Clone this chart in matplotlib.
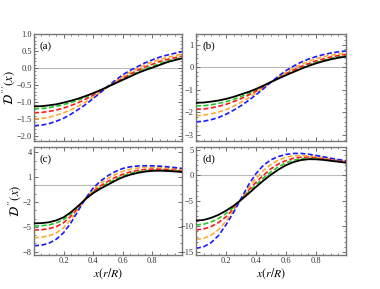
import numpy as np
import matplotlib.pyplot as plt
from matplotlib.ticker import MultipleLocator, FixedLocator

plt.rcParams['font.family'] = ['Liberation Serif', 'DejaVu Serif']
plt.rcParams['mathtext.fontset'] = 'stix'

# sample positions, x = r/R
x = [0.0, 0.05, 0.1, 0.15, 0.2, 0.25, 0.3, 0.35, 0.4, 0.45, 0.5,
     0.55, 0.6, 0.65, 0.7, 0.75, 0.8, 0.85, 0.9, 0.95, 1.0]

# panel (a)
a_black = [-1.13, -1.125, -1.10, -1.07, -1.02, -0.965, -0.90, -0.825, -0.74, -0.65, -0.55,
           -0.45, -0.35, -0.25, -0.15, -0.065, 0.01, 0.09, 0.17, 0.23, 0.28]
a_green = [-1.20, -1.195, -1.17, -1.13, -1.08, -1.015, -0.94, -0.855, -0.76, -0.66, -0.55,
           -0.44, -0.33, -0.22, -0.12, -0.03, 0.05, 0.13, 0.20, 0.26, 0.31]
a_red = [-1.32, -1.31, -1.28, -1.24, -1.18, -1.105, -1.02, -0.915, -0.80, -0.68, -0.55,
         -0.42, -0.30, -0.18, -0.07, 0.03, 0.11, 0.19, 0.25, 0.30, 0.35]
a_orange = [-1.50, -1.49, -1.45, -1.395, -1.32, -1.23, -1.12, -1.00, -0.86, -0.71, -0.55,
            -0.40, -0.25, -0.12, -0.01, 0.09, 0.18, 0.25, 0.31, 0.36, 0.41]
a_blue = [-1.70, -1.685, -1.64, -1.57, -1.48, -1.36, -1.22, -1.07, -0.90, -0.72, -0.54,
          -0.36, -0.20, -0.07, 0.04, 0.15, 0.24, 0.32, 0.38, 0.43, 0.48]

# panel (b)
b_black = [-1.57, -1.56, -1.52, -1.47, -1.40, -1.31, -1.20, -1.09, -0.96, -0.81, -0.65,
           -0.50, -0.35, -0.21, -0.07, 0.06, 0.17, 0.27, 0.35, 0.42, 0.47]
b_green = [-1.71, -1.70, -1.66, -1.60, -1.52, -1.42, -1.30, -1.16, -1.01, -0.84, -0.65,
           -0.48, -0.32, -0.17, -0.03, 0.10, 0.21, 0.31, 0.39, 0.46, 0.51]
b_red = [-1.86, -1.85, -1.80, -1.73, -1.64, -1.52, -1.39, -1.23, -1.06, -0.87, -0.66,
         -0.47, -0.29, -0.12, 0.03, 0.16, 0.28, 0.37, 0.45, 0.52, 0.57]
b_orange = [-2.14, -2.12, -2.06, -1.98, -1.87, -1.72, -1.55, -1.36, -1.14, -0.90, -0.66,
            -0.43, -0.22, -0.04, 0.12, 0.26, 0.38, 0.47, 0.54, 0.59, 0.62]
b_blue = [-2.41, -2.39, -2.32, -2.22, -2.08, -1.90, -1.70, -1.47, -1.22, -0.95, -0.66,
          -0.39, -0.15, 0.05, 0.22, 0.36, 0.47, 0.56, 0.63, 0.68, 0.72]

# panel (c)
c_black = [-4.58, -4.55, -4.45, -4.22, -3.85, -3.22, -2.45, -1.62, -0.92, -0.38, 0.10,
           0.58, 1.00, 1.30, 1.52, 1.67, 1.76, 1.78, 1.75, 1.69, 1.62]
c_green = [-4.90, -4.87, -4.76, -4.55, -4.12, -3.42, -2.55, -1.60, -0.82, -0.22, 0.28,
           0.75, 1.15, 1.45, 1.65, 1.78, 1.85, 1.86, 1.83, 1.79, 1.74]
c_red = [-5.39, -5.35, -5.22, -4.98, -4.50, -3.70, -2.68, -1.58, -0.70, -0.05, 0.50,
         0.98, 1.35, 1.63, 1.82, 1.93, 1.98, 1.98, 1.94, 1.88, 1.82]
c_orange = [-6.31, -6.26, -6.08, -5.75, -5.10, -4.10, -2.85, -1.55, -0.50, 0.28, 0.85,
            1.33, 1.70, 1.95, 2.10, 2.18, 2.20, 2.17, 2.10, 2.03, 1.94]
c_blue = [-7.28, -7.22, -6.98, -6.50, -5.70, -4.50, -3.00, -1.52, -0.30, 0.55, 1.18,
          1.68, 2.05, 2.25, 2.35, 2.38, 2.37, 2.33, 2.25, 2.16, 2.06]

# panel (d)
d_black = [-8.88, -8.75, -8.35, -7.75, -6.95, -6.00, -4.85, -3.60, -2.30, -1.05, 0.10,
           1.10, 1.95, 2.55, 2.95, 3.12, 3.10, 2.98, 2.80, 2.62, 2.43]
d_green = [-9.73, -9.58, -9.15, -8.45, -7.50, -6.30, -4.80, -3.30, -1.90, -0.55, 0.65,
           1.65, 2.40, 2.90, 3.20, 3.30, 3.25, 3.10, 2.90, 2.70, 2.50]
d_red = [-10.7, -10.52, -10.05, -9.25, -8.15, -6.60, -4.75, -2.95, -1.40, 0.00, 1.25,
         2.20, 2.85, 3.30, 3.50, 3.55, 3.45, 3.27, 3.05, 2.82, 2.60]
d_orange = [-12.56, -12.35, -11.75, -10.65, -9.00, -6.95, -4.70, -2.50, -0.60, 0.95, 2.10,
            2.95, 3.50, 3.78, 3.85, 3.78, 3.62, 3.40, 3.18, 2.95, 2.72]
d_blue = [-14.3, -14.0, -13.2, -11.8, -9.7, -7.3, -4.6, -1.9, 0.3, 1.95, 3.0,
          3.65, 4.05, 4.25, 4.25, 4.10, 3.85, 3.58, 3.30, 3.05, 2.82]

panels = [
    ('(a)', [a_black, a_green, a_red, a_orange, a_blue], (-2.15, 1.0),
     [-2.0, -1.5, -1.0, -0.5, 0.0, 0.5, 1.0], 0.1,
     r"$\mathcal{D}^{\,\prime\prime\prime}(x)$"),
    ('(b)', [b_black, b_green, b_red, b_orange, b_blue], (-3.26, 1.47),
     [-3, -2, -1, 0, 1], 0.2, None),
    ('(c)', [c_black, c_green, c_red, c_orange, c_blue], (-8.4, 4.64),
     [-8, -5, -2, 1, 4], 1.0, r"$\mathcal{D}^{\,\prime\prime}(x)$"),
    ('(d)', [d_black, d_green, d_red, d_orange, d_blue], (-15.6, 5.5),
     [-15, -10, -5, 0, 5], 1.0, None),
]

colors = ['black', '#22cc22', '#ff1a1a', '#ffaa33', '#1a1aff']

fig = plt.figure(figsize=(3.8, 2.89), dpi=100)
boxes = [
    [0.0895, 0.5121, 0.3895, 0.3703],
    [0.5158, 0.5121, 0.3947, 0.3703],
    [0.0895, 0.1176, 0.3895, 0.3737],
    [0.5158, 0.1176, 0.3947, 0.3737],
]

for i, (tag, curves, ylim, yt, ymin, ylab) in enumerate(panels):
    ax = fig.add_axes(boxes[i])
    ax.axhline(0, color='#bbbbbb', lw=0.8, zorder=1)
    for j, (y, c) in enumerate(zip(curves, colors)):
        if j == 0:
            ax.plot(x, y, color=c, lw=1.3, zorder=3)
        else:
            ax.plot(x, y, color=c, lw=1.2, dashes=(3.0, 1.5), zorder=2 + j * 0.1)
    ax.set_xlim(0, 1)
    ax.set_ylim(*ylim)
    ax.xaxis.set_major_locator(FixedLocator([0.2, 0.4, 0.6, 0.8]))
    ax.xaxis.set_minor_locator(MultipleLocator(0.05))
    ax.yaxis.set_major_locator(FixedLocator(yt))
    ax.yaxis.set_minor_locator(MultipleLocator(ymin))
    ax.tick_params(which='both', direction='in', top=True, right=True,
                   colors='#555555', labelcolor='#333333', labelsize=6, pad=1.5)
    ax.tick_params(which='major', length=3, width=0.6)
    ax.tick_params(which='minor', length=1.5, width=0.5)
    for s in ax.spines.values():
        s.set_color('#777777')
        s.set_linewidth(1.0)
    if i < 2:
        ax.set_xticklabels([])
    else:
        ax.set_xlabel(r'$x(r/R)$', fontsize=8.5, labelpad=1)
    if ylab:
        ax.set_ylabel(ylab, fontsize=9, labelpad=0)
    ax.text(0.04, 0.93, tag, transform=ax.transAxes, fontsize=8, va='top', ha='left')

fig.savefig('out.png', dpi=100)
